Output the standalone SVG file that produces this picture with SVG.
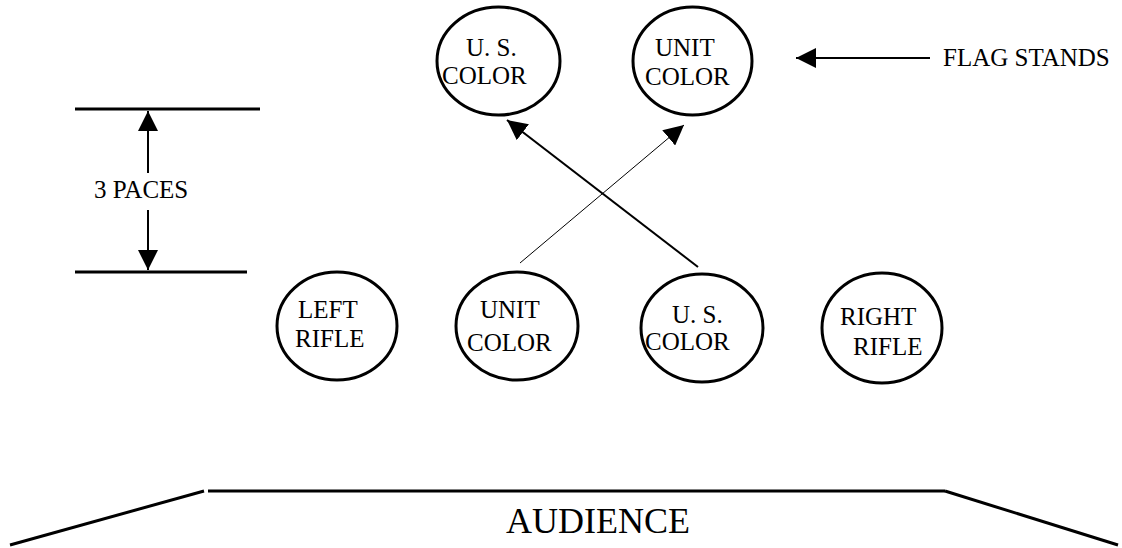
<svg xmlns="http://www.w3.org/2000/svg" width="1122" height="548" viewBox="0 0 1122 548">
<style>
  .node ellipse { fill: #fff; stroke: #000; stroke-width: 3; }
  text { font-family: "Liberation Serif", "Times New Roman", serif; font-size: 25px; fill: #000; }
  .big { font-size: 36px; }
  .thick { stroke: #000; stroke-width: 3; fill: none; }
  .mid { stroke: #000; stroke-width: 2; fill: none; }
  .thin { stroke: #000; stroke-width: 1; fill: none; }
</style>
<defs>
  <marker id="ah" viewBox="0 0 20 20" refX="20" refY="10" markerWidth="20" markerHeight="20" markerUnits="userSpaceOnUse" orient="auto">
    <path d="M0,0 L20,10 L0,20 z" fill="#000"/>
  </marker>
</defs>
<rect width="1122" height="548" fill="#fff"/>

<g id="top-us-color" class="node">
  <ellipse cx="498.5" cy="61" rx="61.5" ry="54"/>
  <text x="466" y="56">U. S.</text>
  <text x="442" y="84">COLOR</text>
</g>
<g id="top-unit-color" class="node">
  <ellipse cx="692.5" cy="61" rx="59.5" ry="54"/>
  <text x="655" y="56">UNIT</text>
  <text x="645" y="85">COLOR</text>
</g>
<g id="left-rifle" class="node">
  <ellipse cx="337" cy="326" rx="60" ry="54"/>
  <text x="298" y="318">LEFT</text>
  <text x="295" y="347">RIFLE</text>
</g>
<g id="unit-color" class="node">
  <ellipse cx="517" cy="326" rx="61" ry="54"/>
  <text x="480" y="318">UNIT</text>
  <text x="467" y="351">COLOR</text>
</g>
<g id="us-color" class="node">
  <ellipse cx="702" cy="328" rx="61" ry="54"/>
  <text x="672" y="323">U. S.</text>
  <text x="645" y="350">COLOR</text>
</g>
<g id="right-rifle" class="node">
  <ellipse cx="882" cy="328" rx="60" ry="55"/>
  <text x="840" y="325">RIGHT</text>
  <text x="853" y="355">RIFLE</text>
</g>

<g id="connectors">
  <line class="mid" x1="698" y1="267" x2="507" y2="120" marker-end="url(#ah)"/>
  <line class="thin" x1="520" y1="263" x2="684" y2="125" marker-end="url(#ah)"/>
  <line class="mid" x1="930" y1="58" x2="796" y2="58" marker-end="url(#ah)"/>
  <line class="mid" x1="148" y1="173" x2="148" y2="111" marker-end="url(#ah)"/>
  <line class="mid" x1="148" y1="210" x2="148" y2="270" marker-end="url(#ah)"/>
</g>

<g id="pace-lines">
  <line class="thick" x1="75" y1="109" x2="260" y2="109"/>
  <line class="thick" x1="75" y1="272" x2="247" y2="272"/>
  <text x="94" y="198">3 PACES</text>
</g>
<text id="flag-stands" x="943" y="66">FLAG STANDS</text>

<g id="audience">
  <line class="thick" x1="10" y1="545" x2="204" y2="491"/>
  <line class="thick" x1="208" y1="491" x2="945" y2="491"/>
  <line class="thick" x1="945" y1="491" x2="1118" y2="545"/>
  <text class="big" x="598" y="533" text-anchor="middle">AUDIENCE</text>
</g>
</svg>
